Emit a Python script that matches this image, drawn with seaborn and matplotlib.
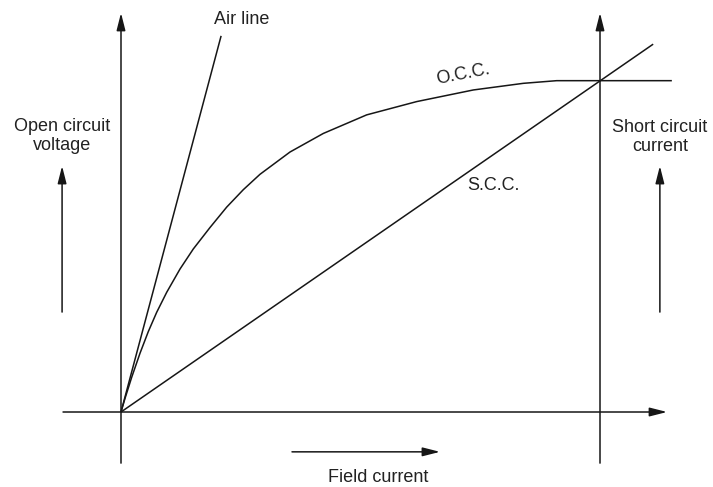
import matplotlib
matplotlib.use("Agg")
import matplotlib.pyplot as plt
import seaborn as sns
import pandas as pd

# ---- data (units: field current 0..100 at the right axis,
#      voltage 0..100 at the O.C.C. saturation level) ----
occ_x = [0.0, 0.84, 2.23, 3.97, 5.70, 7.45, 9.54, 12.32, 15.09, 18.58, 22.07, 25.53,
         29.02, 35.28, 42.23, 51.29, 61.73, 73.55, 83.99, 90.96, 115.0]
occ_y = [0.0, 4.10, 10.45, 17.71, 24.22, 30.03, 36.05, 43.07, 49.10, 55.57, 61.72, 66.96,
         71.60, 78.31, 83.9, 89.5, 93.5, 97.0, 99.0, 99.8, 99.8]
air_x = [0.0, 20.9]
air_y = [0.0, 113.3]
scc_x = [0.0, 111.1]
scc_y = [0.0, 110.8]

labels = {
    "air": "Air line",
    "occ": "O.C.C.",
    "scc": "S.C.C.",
    "ocv": "Open circuit\nvoltage",
    "scc_axis": "Short circuit\ncurrent",
    "field": "Field current",
}

sns.set_theme(style="white")
plt.rcParams["font.family"] = ["Liberation Sans", "DejaVu Sans"]

fig = plt.figure(figsize=(7.13, 4.87), dpi=100)
ax = fig.add_axes([0, 0, 1, 1])
ax.set_xlim(-25.26, 123.59)
ax.set_ylim(-22.59, 124.10)
ax.axis("off")

ink = "#161616"
lw = 1.1

df_occ = pd.DataFrame({"x": occ_x, "y": occ_y})
df_air = pd.DataFrame({"x": air_x, "y": air_y})
df_scc = pd.DataFrame({"x": scc_x, "y": scc_y})
for d in (df_occ, df_air, df_scc):
    sns.lineplot(data=d, x="x", y="y", sort=False, estimator=None, color=ink, lw=lw,
                 ax=ax, solid_joinstyle="round", solid_capstyle="butt")

arrow = dict(arrowstyle="-|>,head_length=0.75,head_width=0.19", mutation_scale=14,
             color=ink, lw=lw, shrinkA=0, shrinkB=0)

# axes
ax.annotate("", xy=(0, 120.2), xytext=(0, -15.4), arrowprops=arrow)
ax.annotate("", xy=(100, 120.2), xytext=(100, -15.4), arrowprops=arrow)
ax.annotate("", xy=(114.0, 0), xytext=(-12.1, 0), arrowprops=arrow)

# small direction arrows
ax.annotate("", xy=(-12.3, 74.1), xytext=(-12.3, 30.1), arrowprops=arrow)
ax.annotate("", xy=(112.5, 74.1), xytext=(112.5, 30.1), arrowprops=arrow)
ax.annotate("", xy=(66.6, -12.0), xytext=(35.7, -12.0), arrowprops=arrow)

fs = 13
tc = "#222222"
ax.text(25.1, 118.1, labels["air"], ha="center", va="center", fontsize=fs, color=tc)
ax.text(71.4, 101.8, labels["occ"], ha="center", va="center", fontsize=fs, color=tc, rotation=11)
ax.text(77.7, 68.1, labels["scc"], ha="center", va="center", fontsize=fs, color=tc)
ax.text(-12.3, 83.2, labels["ocv"], ha="center", va="center", fontsize=fs, color=tc,
        multialignment="center", linespacing=1.15)
ax.text(112.5, 82.9, labels["scc_axis"], ha="center", va="center", fontsize=fs, color=tc,
        multialignment="center", linespacing=1.15)
ax.text(53.7, -19.6, labels["field"], ha="center", va="center", fontsize=fs, color=tc)

fig.savefig("out.png", dpi=100, facecolor="white")
